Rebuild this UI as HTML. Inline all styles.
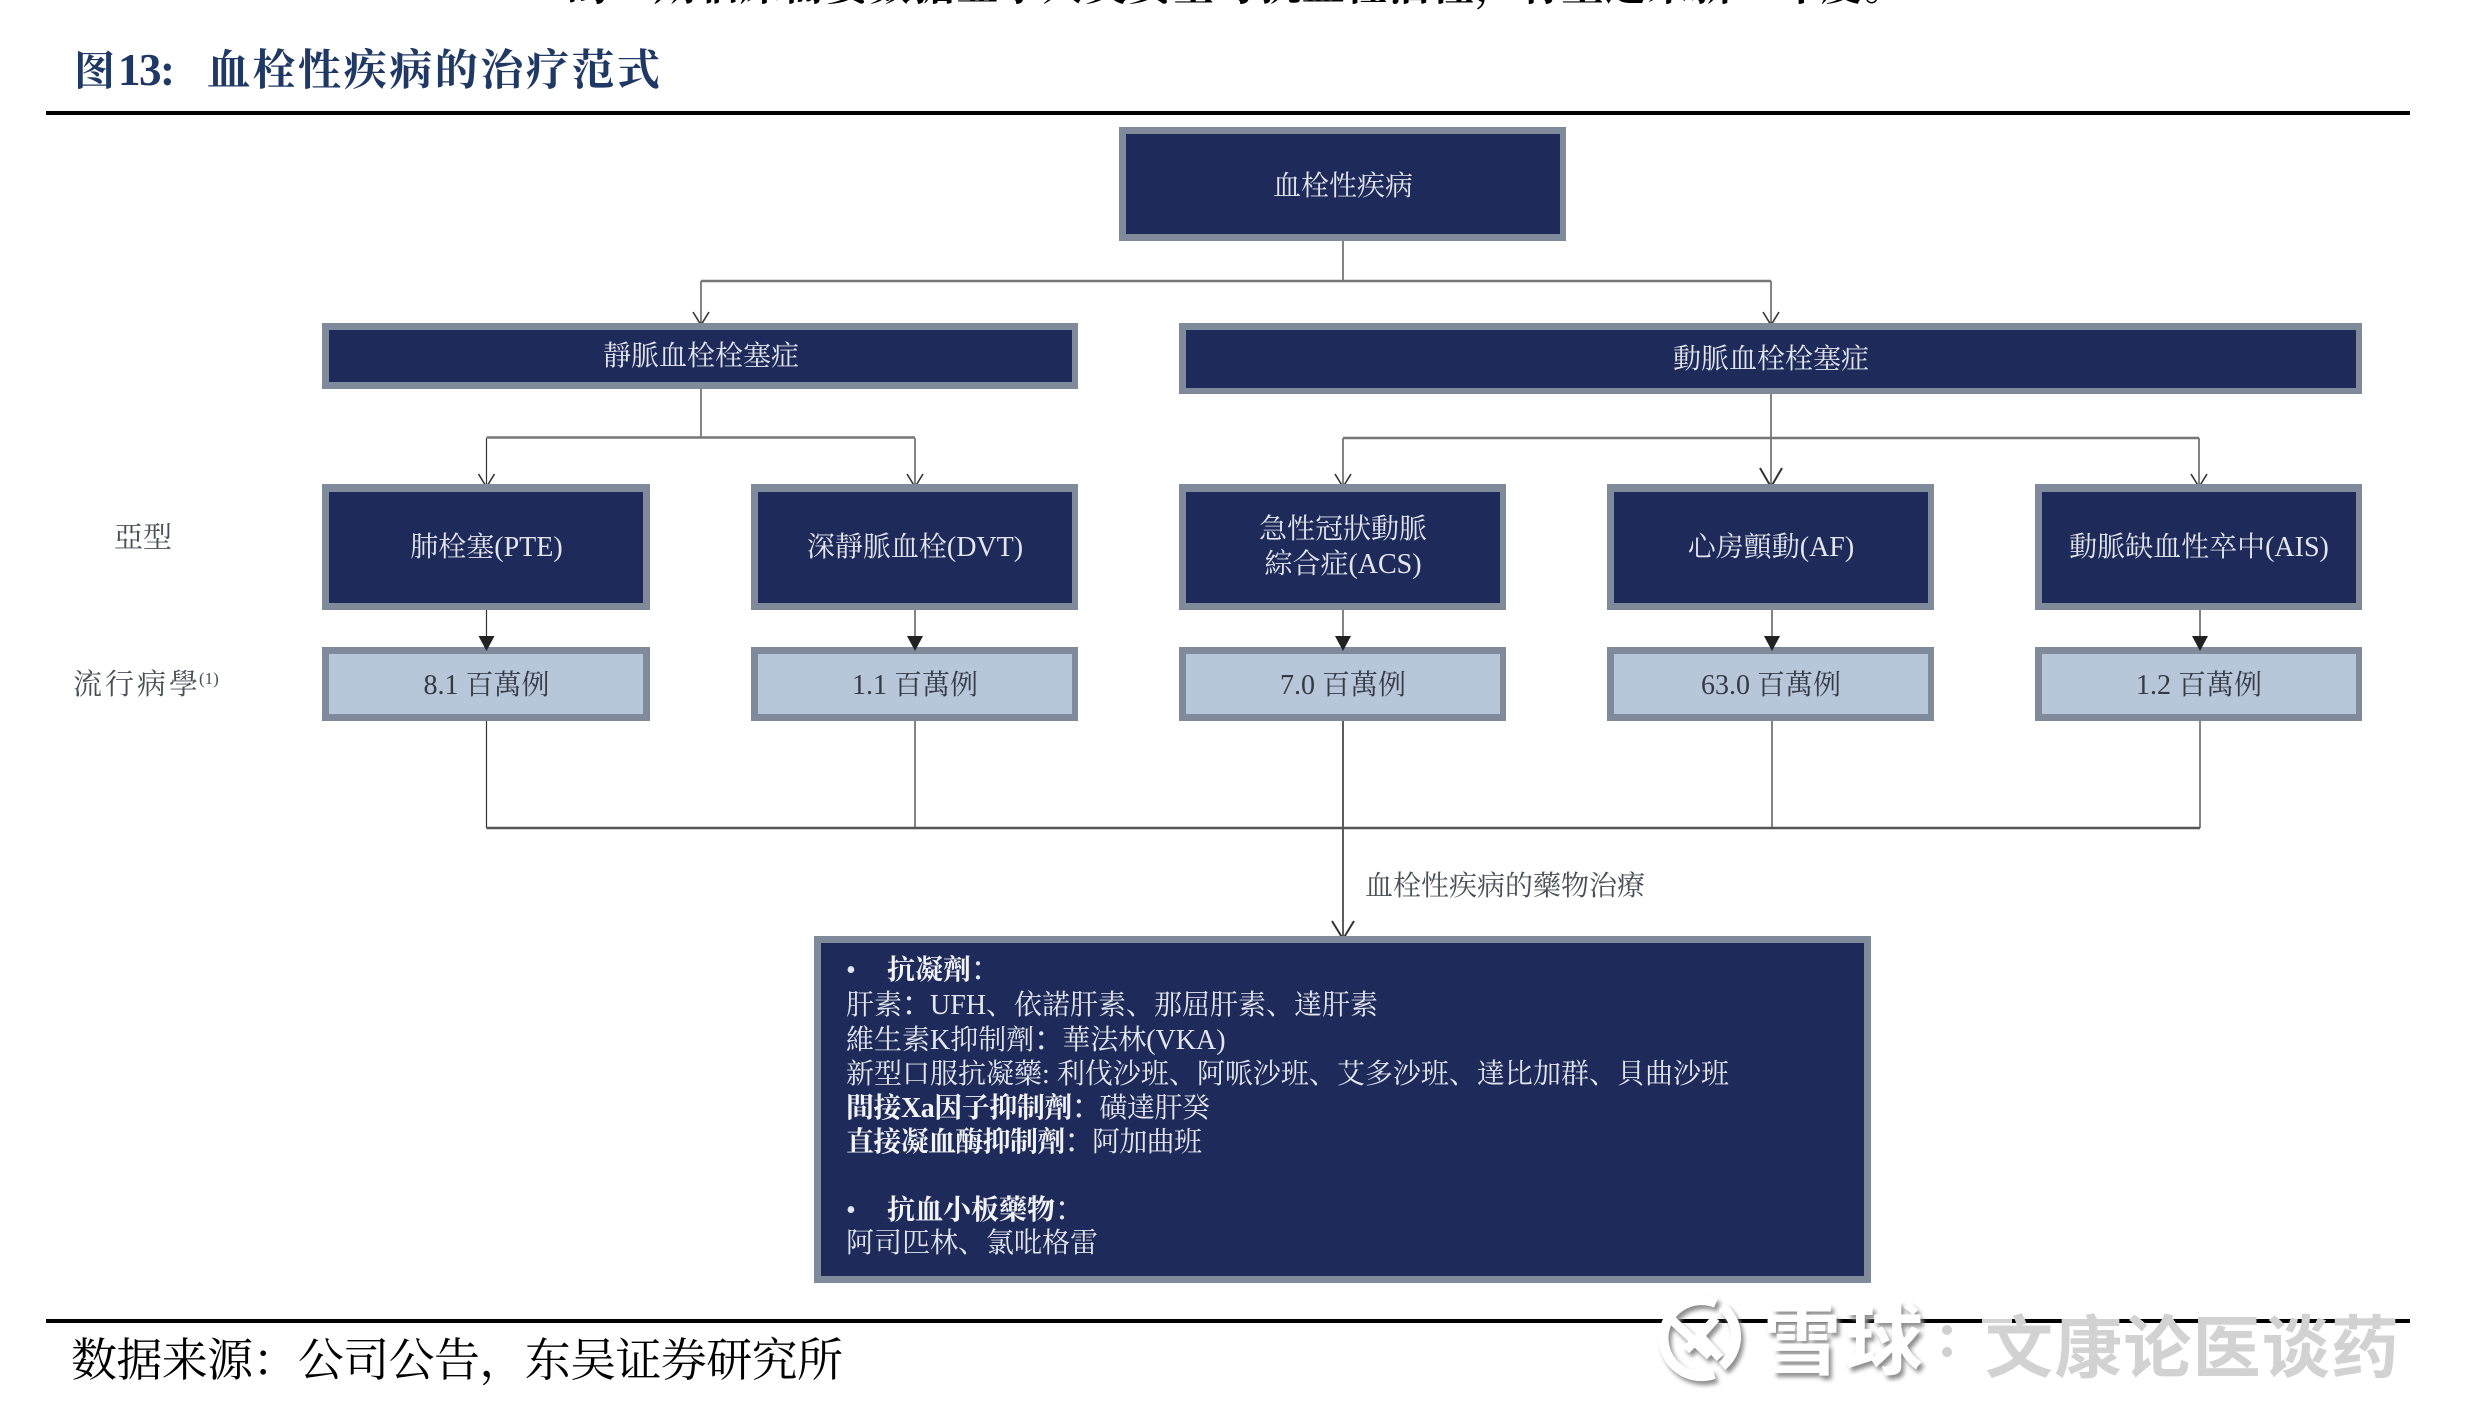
<!DOCTYPE html>
<html lang="zh">
<head>
<meta charset="utf-8">
<title>图13&#xFF1A;血栓性疾病的治疗范式</title>
<style>
html,body{margin:0;padding:0;background:#fff;}
body{width:2474px;height:1420px;overflow:hidden;}
svg{display:block;}
text{font-family:"Liberation Serif","Noto Serif CJK SC",serif;}
.n{fill:#e3e6ee;font-size:28px;text-anchor:middle;}
.d{fill:#333a45;font-size:28px;text-anchor:middle;}
.b{fill:#e3e6ee;font-size:28px;}
.bb{font-weight:700;fill:#f2f3f7;}
.cl{font-family:"Noto Sans CJK TC",sans-serif;font-weight:400;fill:#e3e6ee;}
.l{fill:#4a4f57;font-size:29px;}
.c{stroke:#333;stroke-width:1.2;fill:none;}
.h{stroke:#777;stroke-width:2.4;fill:none;}
.o{stroke:#333;stroke-width:1.6;fill:none;}
.s{fill:#222;}
.w{font-family:"Liberation Sans","Noto Sans CJK SC",sans-serif;fill:#d2d2d2;font-weight:700;}
.wh{fill:#fff;filter:drop-shadow(3px 4px 2px #8f8f8f);}
</style>
</head>
<body>
<svg width="2474" height="1420" viewBox="0 0 2474 1420" xmlns="http://www.w3.org/2000/svg">
<rect width="2474" height="1420" fill="#fff"/>

<!-- cropped heading line -->
<text x="567" y="0" font-size="42" font-weight="700" fill="#000" textLength="1339" lengthAdjust="spacing">的一期临床需要数据显示人类安全与抗血栓活性&#xFF0C;有望迎来新一年度。</text>

<!-- title -->
<text x="74" y="85" font-size="41" font-weight="700" fill="#1f3864">图</text>
<text x="118" y="85" font-size="45" font-weight="700" fill="#1f3864" textLength="57" lengthAdjust="spacing">13:</text>
<text x="207" y="85" font-size="43" font-weight="700" fill="#1f3864" textLength="453" lengthAdjust="spacing">血栓性疾病的治疗范式</text>
<rect x="46" y="111" width="2364" height="4" fill="#000"/>

<!-- connectors -->
<path class="c" d="M1343 241V281M701 281V323M1771 281V323M701 389V437M486.5 438V484M915 438V484M1771 394V486M1343 438V484M2199 438V484"/>
<path class="h" d="M701 281H1771M486.5 437.5H915M1343 438H2199"/>
<path class="c" d="M486.5 610V640M915 603V640M1343 610V640M1772 610V640M2200 610V640"/>
<path class="c" d="M486.5 721V828M915 721V828M1772 721V828M2200 721V828"/>
<path class="o" d="M1343 721V937"/>
<path class="h" d="M486.5 828H2200" style="stroke:#555"/>

<!-- open arrowheads -->
<g class="o">
<path d="M693 312L701 325L709 312"/>
<path d="M1763 312L1771 325L1779 312"/>
<path d="M478.500 474L486.500 487L494.500 474"/>
<path d="M907 474L915 487L923 474"/>
<path d="M1335 474L1343 487L1351 474"/>
<path d="M2191 474L2199 487L2207 474" />
<path d="M1760 468L1771 487L1782 468" stroke-width="2"/>
<path d="M1332 921L1343 939L1354 921" stroke-width="2"/>
</g>

<!-- boxes -->
<g fill="#7f8b9a">
<rect x="1119" y="127" width="447" height="114"/>
<rect x="322" y="323" width="756" height="66"/>
<rect x="1179" y="323" width="1183" height="71"/>
<rect x="322" y="484" width="328" height="126"/>
<rect x="751" y="484" width="327" height="126"/>
<rect x="1179" y="484" width="327" height="126"/>
<rect x="1607" y="484" width="327" height="126"/>
<rect x="2035" y="484" width="327" height="126"/>
<rect x="322" y="647" width="328" height="74"/>
<rect x="751" y="647" width="327" height="74"/>
<rect x="1179" y="647" width="327" height="74"/>
<rect x="1607" y="647" width="327" height="74"/>
<rect x="2035" y="647" width="327" height="74"/>
<rect x="814" y="936" width="1057" height="347"/>
</g>
<g fill="#1e2a5a">
<rect x="1126" y="134" width="434" height="100"/>
<rect x="329" y="330" width="743" height="52"/>
<rect x="1186" y="330" width="1170" height="58"/>
<rect x="329" y="492" width="314" height="111"/>
<rect x="758" y="492" width="314" height="111"/>
<rect x="1186" y="492" width="314" height="111"/>
<rect x="1614" y="492" width="314" height="111"/>
<rect x="2042" y="492" width="314" height="111"/>
<rect x="821" y="943" width="1043" height="333"/>
</g>
<g fill="#b8c6d9">
<rect x="329" y="654" width="314" height="60"/>
<rect x="758" y="654" width="314" height="60"/>
<rect x="1186" y="654" width="314" height="60"/>
<rect x="1614" y="654" width="314" height="60"/>
<rect x="2042" y="654" width="314" height="60"/>
</g>

<!-- solid arrowheads -->
<g class="s">
<path d="M478.500 636H494.500L486.500 651Z"/>
<path d="M907 636H923L915 651Z"/>
<path d="M1335 636H1351L1343 651Z"/>
<path d="M1764 636H1780L1772 651Z"/>
<path d="M2192 636H2208L2200 651Z"/>
</g>

<!-- node labels -->
<text class="n" x="1343" y="195" textLength="140" lengthAdjust="spacing">血栓性疾病</text>
<text class="n" x="701" y="365">靜脈血栓栓塞症</text>
<text class="n" x="1771" y="368">動脈血栓栓塞症</text>

<text class="n" x="486.500" y="556">肺栓塞(PTE)</text>
<text class="n" x="915" y="556">深靜脈血栓(DVT)</text>
<text class="n" x="1343" y="538">急性冠狀動脈</text>
<text class="n" x="1343" y="573">綜合症(ACS)</text>
<text class="n" x="1771" y="556">心房顫動(AF)</text>
<text class="n" x="2199" y="556">動脈缺血性卒中(AIS)</text>

<text class="d" x="486.500" y="694">8.1 百萬例</text>
<text class="d" x="915" y="694">1.1 百萬例</text>
<text class="d" x="1343" y="694">7.0 百萬例</text>
<text class="d" x="1771" y="694">63.0 百萬例</text>
<text class="d" x="2199" y="694">1.2 百萬例</text>

<!-- side labels -->
<text class="l" x="114" y="547">亞型</text>
<text class="l" x="73" y="694" textLength="125" lengthAdjust="spacing">流行病學</text>
<text class="l" x="199" y="684" style="font-size:17px">(1)</text>

<text x="1365" y="895" font-size="28" fill="#4a4f57" textLength="280" lengthAdjust="spacing">血栓性疾病的藥物治療</text>

<!-- large box text -->
<text class="b" x="846" y="979">•</text>
<text class="b bb" x="887" y="979">抗凝劑<tspan class="cl">&#xFF1A;</tspan></text>
<text class="b" x="846" y="1014">肝素<tspan class="cl">&#xFF1A;</tspan>UFH、依諾肝素、那屈肝素、達肝素</text>
<text class="b" x="846" y="1049">維生素K抑制劑<tspan class="cl">&#xFF1A;</tspan>華法林(VKA)</text>
<text class="b" x="846" y="1083" textLength="883" lengthAdjust="spacing">新型口服抗凝藥: 利伐沙班、阿哌沙班、艾多沙班、達比加群、貝曲沙班</text>
<text class="b" x="846" y="1117" textLength="364" lengthAdjust="spacing"><tspan class="bb">間接Xa因子抑制劑</tspan><tspan class="cl">&#xFF1A;</tspan>磺達肝癸</text>
<text class="b" x="846" y="1151" textLength="356" lengthAdjust="spacing"><tspan class="bb">直接凝血酶抑制劑</tspan><tspan class="cl">&#xFF1A;</tspan>阿加曲班</text>
<text class="b" x="846" y="1219">•</text>
<text class="b bb" x="887" y="1219">抗血小板藥物<tspan class="cl">&#xFF1A;</tspan></text>
<text class="b" x="846" y="1252">阿司匹林、氯吡格雷</text>

<!-- footer -->
<rect x="46" y="1319" width="2364" height="4" fill="#000"/>
<text x="71" y="1376" font-size="46" fill="#000" textLength="772" lengthAdjust="spacing">数据来源&#xFF1A;公司公告&#xFF0C;东吴证券研究所</text>

<!-- watermark -->
<g style="filter:drop-shadow(3px 4px 2px #8f8f8f)" fill="none" stroke="#fff">
<path d="M1716 1303A38 38 0 1 0 1714 1374" stroke-width="10"/>
<path d="M1722 1307A38 38 0 0 1 1722 1366" stroke-width="10"/>
<path d="M1672 1320L1710 1356M1716 1318L1700 1336L1720 1358M1686 1350L1700 1336" stroke-width="9"/>
</g>
<text class="w wh" x="1763" y="1368" font-size="78" textLength="160" lengthAdjust="spacing">雪球</text>
<circle cx="1947" cy="1330" r="5" fill="#cfcfcf"/>
<circle cx="1947" cy="1352" r="5" fill="#cfcfcf"/>
<rect x="1982" y="1319" width="30" height="4" fill="#d2d2d2"/>
<text class="w" x="1985" y="1372" font-size="68" textLength="414" lengthAdjust="spacing">文康论医谈药</text>
</svg>
</body>
</html>
